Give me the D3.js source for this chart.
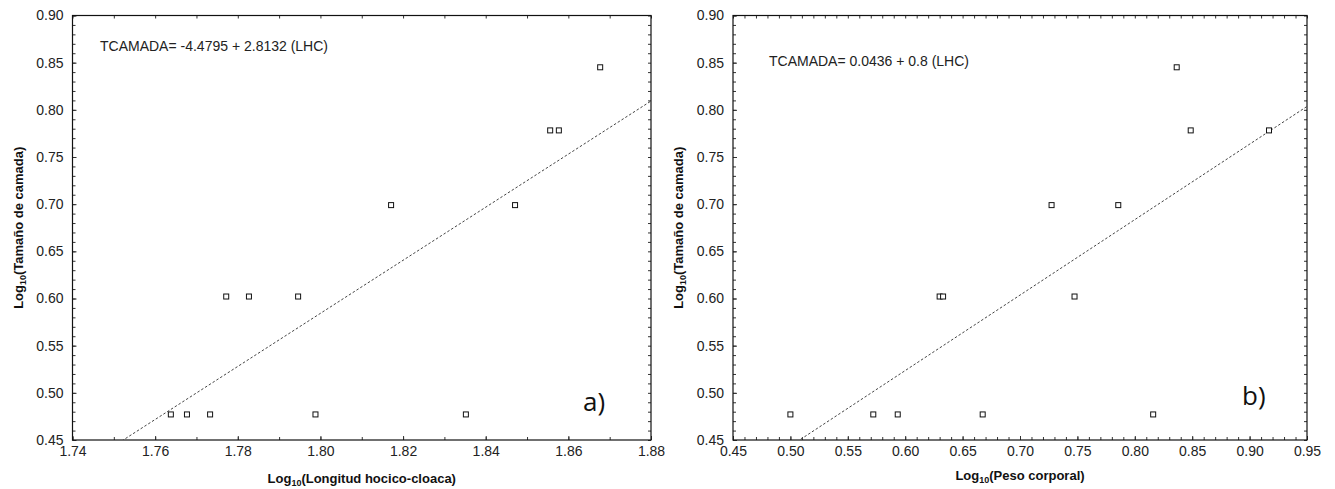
<!DOCTYPE html>
<html>
<head>
<meta charset="utf-8">
<script src="https://cdn.jsdelivr.net/npm/d3@7"></script>
<style>
  html, body { margin: 0; padding: 0; background: #fff; }
  svg { display: block; }
  .tick text { font-family: "Liberation Sans", Arial, sans-serif; font-size: 14px; fill: #222; }
</style>
</head>
<body>
<svg id="chart" width="1335" height="489"></svg>
<script>
// Panel a) — litter size vs snout-vent length (log10)
const lhcX = [1.7638, 1.7677, 1.7733, 1.7988, 1.8352, 1.7772, 1.7827, 1.7946, 1.8171, 1.8471, 1.8556, 1.8577, 1.8677];
const lhcY = [0.4771, 0.4771, 0.4771, 0.4771, 0.4771, 0.6021, 0.6021, 0.6021, 0.6990, 0.6990, 0.7782, 0.7782, 0.8451];
const lhcFit = { intercept: -4.4795, slope: 2.8132 };

// Panel b) — litter size vs body weight (log10)
const pesoX = [0.5000, 0.5722, 0.5935, 0.6675, 0.8160, 0.6300, 0.6330, 0.7475, 0.7275, 0.7856, 0.8365, 0.8487, 0.9169];
const pesoY = [0.4771, 0.4771, 0.4771, 0.4771, 0.4771, 0.6021, 0.6021, 0.6021, 0.6990, 0.6990, 0.8451, 0.7782, 0.7782];
const pesoFit = { intercept: 0.0436, slope: 0.8 };

// Axis ticks
const yTicks = [0.45, 0.50, 0.55, 0.60, 0.65, 0.70, 0.75, 0.80, 0.85, 0.90];
const lhcTicks = [1.74, 1.76, 1.78, 1.80, 1.82, 1.84, 1.86, 1.88];
const pesoTicks = [0.45, 0.50, 0.55, 0.60, 0.65, 0.70, 0.75, 0.80, 0.85, 0.90, 0.95];

const panels = [
  {
    xs: lhcX, ys: lhcY, fit: lhcFit, xDomain: [1.74, 1.88], xTicks: lhcTicks, xMinorStep: 0.01,
    left: 72.5, right: 651, eq: "TCAMADA= -4.4795 + 2.8132 (LHC)", eqPos: [100, 51],
    xTitle: "(Longitud hocico-cloaca)", xTitleY: 483, tag: "a)", tagPos: [583, 411], yTitleX: 22.5
  },
  {
    xs: pesoX, ys: pesoY, fit: pesoFit, xDomain: [0.45, 0.95], xTicks: pesoTicks, xMinorStep: 0.01,
    left: 733, right: 1307, eq: "TCAMADA= 0.0436 + 0.8 (LHC)", eqPos: [769, 66],
    xTitle: "(Peso corporal)", xTitleY: 480, tag: "b)", tagPos: [1242, 405], yTitleX: 682.5
  }
];

const plotTop = 15.5, plotBottom = 440;
const svg = d3.select("#chart");
const fmt = d3.format(".2f");

function range(a, b, step) {
  const out = [];
  const n = Math.round((b - a) / step);
  for (let i = 0; i <= n; i++) out.push(+(a + i * step).toFixed(4));
  return out;
}

panels.forEach(p => {
  const x = d3.scaleLinear().domain(p.xDomain).range([p.left, p.right]);
  const y = d3.scaleLinear().domain([0.45, 0.90]).range([plotBottom, plotTop]);
  const g = svg.append("g");

  const xMinor = range(p.xDomain[0], p.xDomain[1], p.xMinorStep);
  const yMinor = range(0.45, 0.90, 0.01);

  // minor ticks on all four sides, pointing inward
  g.append("g").attr("transform", `translate(0,${plotBottom})`)
    .call(d3.axisBottom(x).tickValues(xMinor).tickSize(-3).tickSizeOuter(0).tickFormat(""));
  g.append("g").attr("transform", `translate(0,${plotTop})`)
    .call(d3.axisTop(x).tickValues(xMinor).tickSize(-3).tickSizeOuter(0).tickFormat(""));
  g.append("g").attr("transform", `translate(${p.left},0)`)
    .call(d3.axisLeft(y).tickValues(yMinor).tickSize(-3).tickSizeOuter(0).tickFormat(""));
  g.append("g").attr("transform", `translate(${p.right},0)`)
    .call(d3.axisRight(y).tickValues(yMinor).tickSize(-3).tickSizeOuter(0).tickFormat(""));

  // labelled axes
  g.append("g").attr("transform", `translate(0,${plotBottom})`)
    .call(d3.axisBottom(x).tickValues(p.xTicks).tickSize(-4).tickSizeOuter(0).tickPadding(6).tickFormat(fmt));
  g.append("g").attr("transform", `translate(${p.left},0)`)
    .call(d3.axisLeft(y).tickValues(yTicks).tickSize(-4).tickSizeOuter(0).tickPadding(9).tickFormat(fmt));

  g.selectAll(".domain").remove();
  g.selectAll(".tick line").attr("stroke", "#333");

  // plot frame
  g.append("rect")
    .attr("x", p.left).attr("y", plotTop)
    .attr("width", p.right - p.left).attr("height", plotBottom - plotTop)
    .attr("fill", "none").attr("stroke", "#111").attr("stroke-width", 1.2);

  // regression line clipped to the plot area
  const clipId = "clip" + p.tag.replace(")", "");
  svg.append("clipPath").attr("id", clipId)
    .append("rect").attr("x", p.left).attr("y", plotTop)
    .attr("width", p.right - p.left).attr("height", plotBottom - plotTop);
  const lineData = p.xDomain.map(v => [v, p.fit.intercept + p.fit.slope * v]);
  g.append("path")
    .datum(lineData)
    .attr("clip-path", `url(#${clipId})`)
    .attr("d", d3.line().x(d => x(d[0])).y(d => y(d[1])))
    .attr("fill", "none").attr("stroke", "#444").attr("stroke-width", 1)
    .attr("stroke-dasharray", "2.5,2");

  // data points as open squares
  const s = 5;
  g.selectAll("rect.pt")
    .data(p.xs.map((v, i) => [v, p.ys[i]]))
    .enter().append("rect").attr("class", "pt")
    .attr("x", d => x(d[0]) - s / 2).attr("y", d => y(d[1]) - s / 2)
    .attr("width", s).attr("height", s)
    .attr("fill", "#fff").attr("stroke", "#111").attr("stroke-width", 1);

  // regression equation
  g.append("text")
    .attr("x", p.eqPos[0]).attr("y", p.eqPos[1])
    .attr("font-family", "'Liberation Sans', Arial, sans-serif")
    .attr("font-size", 14).attr("fill", "#222")
    .text(p.eq);

  // panel tag
  g.append("text")
    .attr("x", p.tagPos[0]).attr("y", p.tagPos[1])
    .attr("font-family", "'Open Sans', sans-serif")
    .attr("font-size", 26).attr("fill", "#111")
    .text(p.tag);

  // x axis title
  const xt = g.append("text")
    .attr("x", (p.left + p.right) / 2).attr("y", p.xTitleY)
    .attr("text-anchor", "middle")
    .attr("font-family", "'Liberation Sans', Arial, sans-serif")
    .attr("font-size", 13).attr("font-weight", "bold").attr("fill", "#111");
  xt.append("tspan").text("Log");
  xt.append("tspan").attr("font-size", 9).attr("dy", 3).text("10");
  xt.append("tspan").attr("dy", -3).text(p.xTitle);

  // y axis title
  const yt = g.append("text")
    .attr("transform", `translate(${p.yTitleX},${(plotTop + plotBottom) / 2}) rotate(-90)`)
    .attr("text-anchor", "middle")
    .attr("font-family", "'Liberation Sans', Arial, sans-serif")
    .attr("font-size", 13).attr("font-weight", "bold").attr("fill", "#111");
  yt.append("tspan").text("Log");
  yt.append("tspan").attr("font-size", 9).attr("dy", 3).text("10");
  yt.append("tspan").attr("dy", -3).text("(Tamaño de camada)");
});
</script>
</body>
</html>
